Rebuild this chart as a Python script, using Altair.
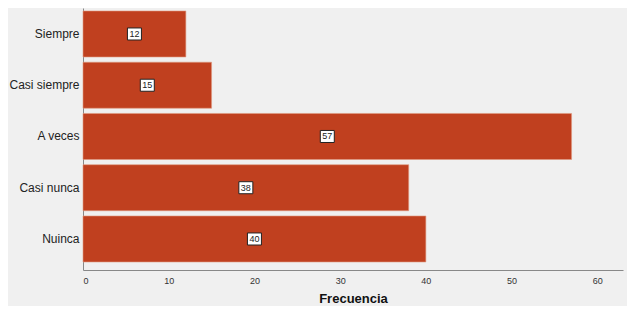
import altair as alt
import pandas as pd

categories = ["Siempre", "Casi siempre", "A veces", "Casi nunca", "Nuinca"]
values = [12, 15, 57, 38, 40]

df = pd.DataFrame({"cat": categories, "val": values})
df["mid"] = df["val"] / 2

FONT = "Liberation Sans"

y_enc = alt.Y("cat:N", sort=categories, title=None,
              scale=alt.Scale(paddingInner=0.102, paddingOuter=0.107, align=0.27),
              axis=alt.Axis(labelFontSize=12, labelColor="#222222", labelFont=FONT,
                            ticks=False, domainColor="#888888", labelPadding=4,
                            labelLimit=200))
x_scale = alt.Scale(domain=[0, 63], nice=False)

bars = alt.Chart(df).mark_bar(color="#c0401f", stroke="#e09a80", strokeWidth=1, strokeOpacity=0.6).encode(
    y=y_enc,
    x=alt.X("val:Q", scale=x_scale, title="Frecuencia",
            axis=alt.Axis(values=[0, 10, 20, 30, 40, 50, 60], grid=False, ticks=False,
                          domainColor="#888888", labelFontSize=9, labelColor="#333333",
                          labelFont=FONT, titleFont=FONT, titleFontSize=13,
                          titleFontWeight="bold", titleColor="#111111", titlePadding=7,
                          labelPadding=6)),
)

boxes = alt.Chart(df).mark_point(
    shape="M-1,-0.86L1,-0.86L1,0.86L-1,0.86Z", size=196, filled=True,
    fill="white", stroke="#222222", strokeWidth=1, opacity=1
).encode(y=alt.Y("cat:N", sort=categories), x=alt.X("mid:Q", scale=x_scale))

texts = alt.Chart(df).mark_text(fontSize=9, color="#222222", font=FONT).encode(
    y=alt.Y("cat:N", sort=categories), x=alt.X("mid:Q", scale=x_scale), text="val:Q"
)

chart = alt.layer(bars, boxes, texts).properties(
    width=540, height=262, background="#f0f0f0",
    autosize=alt.AutoSizeParams(type="none"),
    padding={"left": 75, "top": 0, "right": 4, "bottom": 36},
).configure_view(stroke=None)

chart.save("out.html", embed_options={"renderer": "svg", "actions": False})
